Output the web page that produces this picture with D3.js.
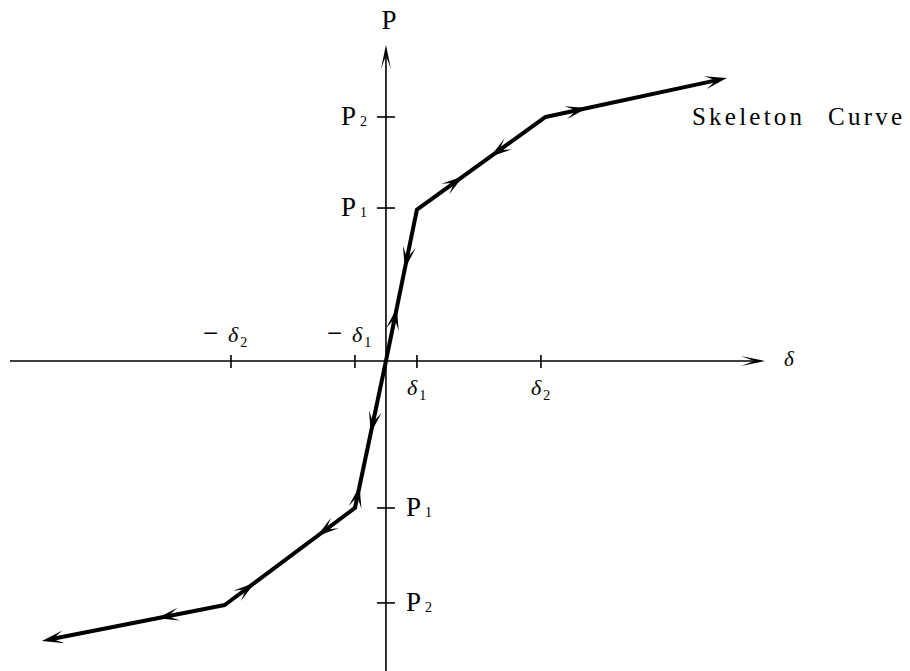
<!DOCTYPE html>
<html>
<head>
<meta charset="utf-8">
<script src="https://cdn.jsdelivr.net/npm/d3@7"></script>
<style>
  html, body { margin: 0; padding: 0; background: #fff; }
  svg { display: block; }
  text { font-family: "Liberation Serif", "DejaVu Serif", serif; fill: #000; }
</style>
</head>
<body>
<svg id="chart" width="910" height="671"></svg>
<script>
// Skeleton curve vertices (displacement δ, load P), from the negative tail to the positive tail
const skelDelta = [-11.1, -5.2, -1.0, 0, 1.0, 5.15, 11.0];
const skelLoad  = [-1.867, -1.627, -0.98, 0, 1.01, 1.627, 1.887];

// Characteristic points marked on the axes
const deltaTicks  = [-5, -1, 1, 5];
const deltaLabels = ["2", "1", "1", "2"];        // subscripts of δ
const loadTicks   = [1.02, 1.627, -0.98, -1.613];
const loadLabels  = ["1", "2", "1", "2"];         // subscripts of P

// Direction arrows on the curve: segment from vertex a (inner) to b (outer),
// tip at fraction t from a, pointing outward or back toward the origin
const arrowA   = [3, 3, 4, 4, 5, 5, 3, 3, 2, 2, 1, 1];
const arrowB   = [4, 4, 5, 5, 6, 6, 2, 2, 1, 1, 0, 0];
const arrowT   = [0.35, 0.61, 0.36, 0.57, 0.23, 1, 0.49, 0.85, 0.29, 0.77, 0.37, 1];
const arrowOut = [true, false, true, false, true, true, true, false, true, false, true, true];

const svg = d3.select("#chart");
const x = d3.scaleLinear().domain([-12.13, 12.23]).range([10, 765]);
const y = d3.scaleLinear().domain([-2.067, 2.107]).range([671, 45]);
const x0 = x(0), y0 = y(0);

// concave arrowhead polygon pointing along unit vector (dx, dy)
function arrowHead(tx, ty, dx, dy, len, half, notch) {
  const nx = -dy, ny = dx;
  const bx = tx - dx * len, by = ty - dy * len;
  const pts = [
    [tx, ty],
    [bx + nx * half, by + ny * half],
    [tx - dx * len * notch, ty - dy * len * notch],
    [bx - nx * half, by - ny * half]
  ];
  return "M" + pts.map(p => p.join(",")).join("L") + "Z";
}

// ---- axes ----
const axes = svg.append("g").attr("stroke", "#000").attr("stroke-width", 1.6).attr("fill", "none");
axes.append("line").attr("x1", x(-12.13)).attr("x2", x(12.23) - 8).attr("y1", y0).attr("y2", y0);
axes.append("line").attr("x1", x0).attr("x2", x0).attr("y1", y(-2.067)).attr("y2", y(2.107) + 8);
svg.append("path").attr("d", arrowHead(x(12.23), y0, 1, 0, 24, 5, 0.45)).attr("fill", "#000");
svg.append("path").attr("d", arrowHead(x0, y(2.107), 0, -1, 24, 5, 0.45)).attr("fill", "#000");

// ticks
axes.selectAll("line.dt").data(deltaTicks).join("line").attr("class", "dt")
  .attr("x1", d => x(d)).attr("x2", d => x(d)).attr("y1", y0 - 6).attr("y2", y0 + 7);
axes.selectAll("line.pt").data(loadTicks).join("line").attr("class", "pt")
  .attr("x1", x0 - 9).attr("x2", x0 + 9).attr("y1", d => y(d)).attr("y2", d => y(d));

// δ tick labels: positive below the axis, negative above
deltaTicks.forEach((d, i) => {
  const neg = d < 0;
  const by = neg ? y0 - 19 : y0 + 34;
  if (neg) {
    svg.append("text").attr("x", x(d) - 28).attr("y", by)
      .attr("font-size", 27).text("−");
  }
  const t = svg.append("text")
    .attr("x", neg ? x(d) - 3 : x(d) - 10)
    .attr("y", by)
    .attr("font-size", 22);
  t.append("tspan").attr("font-style", "italic").text("δ");
  t.append("tspan").attr("font-size", 14).attr("dy", 5).attr("dx", 2).text(deltaLabels[i]);
});

// P tick labels: positive left of the axis, negative right
loadTicks.forEach((d, i) => {
  const t = svg.append("text")
    .attr("x", d > 0 ? x0 - 45 : x0 + 20)
    .attr("y", y(d) + 8)
    .attr("font-size", 27);
  t.append("tspan").text("P");
  t.append("tspan").attr("font-size", 14).attr("dx", 4).attr("dy", 1).text(loadLabels[i]);
});

// axis titles
svg.append("text").attr("x", x0 + 3).attr("y", 29).attr("text-anchor", "middle")
  .attr("font-size", 27).text("P");
svg.append("text").attr("x", 784).attr("y", 366).attr("font-size", 21)
  .attr("font-style", "italic").text("δ");

// ---- skeleton curve ----
const pts = skelDelta.map((d, i) => [x(d), y(skelLoad[i])]);
// pull the two tails back a little so the arrowheads form the ends
function pullBack(p, q, dist) {
  const dx = p[0] - q[0], dy = p[1] - q[1], L = Math.hypot(dx, dy);
  return [p[0] - dx / L * dist, p[1] - dy / L * dist];
}
const linePts = pts.slice();
linePts[0] = pullBack(pts[0], pts[1], 10);
linePts[linePts.length - 1] = pullBack(pts[pts.length - 1], pts[pts.length - 2], 10);

svg.append("path")
  .attr("d", d3.line()(linePts))
  .attr("fill", "none").attr("stroke", "#000")
  .attr("stroke-width", 4).attr("stroke-linejoin", "round");

arrowA.forEach((a, i) => {
  const b = arrowB[i], t = arrowT[i];
  const pa = pts[a], pb = pts[b];
  const tx = pa[0] + (pb[0] - pa[0]) * t, ty = pa[1] + (pb[1] - pa[1]) * t;
  let dx = pb[0] - pa[0], dy = pb[1] - pa[1];
  const L = Math.hypot(dx, dy);
  dx /= L; dy /= L;
  if (!arrowOut[i]) { dx = -dx; dy = -dy; }
  svg.append("path")
    .attr("d", arrowHead(tx, ty, dx, dy, 22, 6.5, 0.5))
    .attr("fill", "#000");
});

// curve name
svg.append("text").attr("x", 692).attr("y", 125).attr("font-size", 25)
  .attr("textLength", 110).attr("lengthAdjust", "spacing").text("Skeleton");
svg.append("text").attr("x", 828).attr("y", 125).attr("font-size", 25)
  .attr("textLength", 74).attr("lengthAdjust", "spacing").text("Curve");
</script>
</body>
</html>
